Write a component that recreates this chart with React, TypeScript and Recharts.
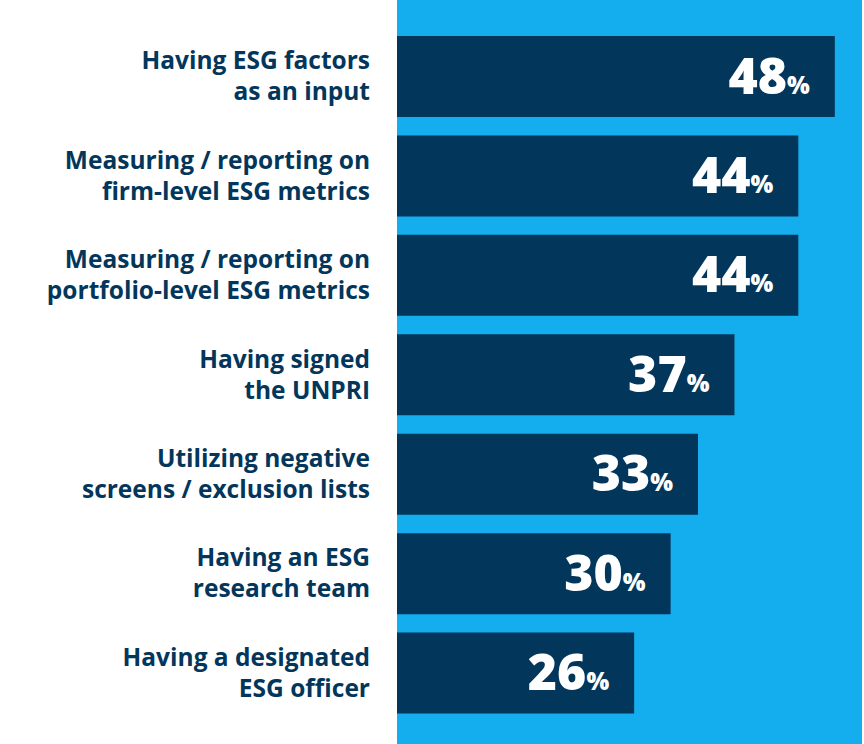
import React from "react";
import { BarChart, Bar, XAxis, YAxis, LabelList } from "recharts";

const categories: string[][] = [
  ["Having ESG factors", "as an input"],
  ["Measuring / reporting on", "firm-level ESG metrics"],
  ["Measuring / reporting on", "portfolio-level ESG metrics"],
  ["Having signed", "the UNPRI"],
  ["Utilizing negative", "screens / exclusion lists"],
  ["Having an ESG", "research team"],
  ["Having a designated", "ESG officer"],
];
const values: number[] = [48, 44, 44, 37, 33, 30, 26];

const NAVY = "#03365B";
const BLUE = "#14ADEE";
const FONT = "'Open Sans', sans-serif";

const data = categories.map((c, i) => ({ key: String(i), lines: c, value: values[i] }));

const CategoryTick = (props: any) => {
  const { x, y, payload } = props;
  const lines = categories[Number(payload.value)] || [];
  return (
    <text
      x={x - 27}
      y={y}
      textAnchor="end"
      fill={NAVY}
      fontFamily={FONT}
      fontWeight={700}
      fontSize={24.5}
    >
      <tspan x={x - 27} y={y - 7.5}>{lines[0]}</tspan>
      <tspan x={x - 27} y={y + 23.5}>{lines[1]}</tspan>
    </text>
  );
};

const ValueLabel = (props: any) => {
  const { x, y, width, height, value } = props;
  const xe = x + width - 25;
  const yc = y + height / 2;
  return (
    <text x={xe} y={yc + 17} textAnchor="end" fill="#FFFFFF" fontFamily={FONT} fontWeight={800}>
      <tspan fontSize={50}>{value}</tspan>
      <tspan fontSize={24}>%</tspan>
    </text>
  );
};

export default function App() {
  return (
    <div style={{ position: "absolute", left: 0, top: 0, width: 864, height: 744, background: "#FFFFFF" }}>
      <div style={{ position: "absolute", left: 397, top: 0, width: 465, height: 744, background: BLUE }} />
      <div style={{ position: "absolute", left: 0, top: 0 }}>
        <BarChart
          width={864}
          height={744}
          data={data}
          layout="vertical"
          margin={{ top: 27, right: 0, bottom: 21, left: 0 }}
        >
          <XAxis type="number" domain={[0, 51.2]} hide allowDataOverflow />
          <YAxis
            type="category"
            dataKey="key"
            width={397}
            axisLine={false}
            tickLine={false}
            tickSize={0}
            tickMargin={0}
            tick={<CategoryTick />}
            interval={0}
          />
          <Bar dataKey="value" fill={NAVY} barSize={81} isAnimationActive={false}>
            <LabelList dataKey="value" content={<ValueLabel />} />
          </Bar>
        </BarChart>
      </div>
    </div>
  );
}
